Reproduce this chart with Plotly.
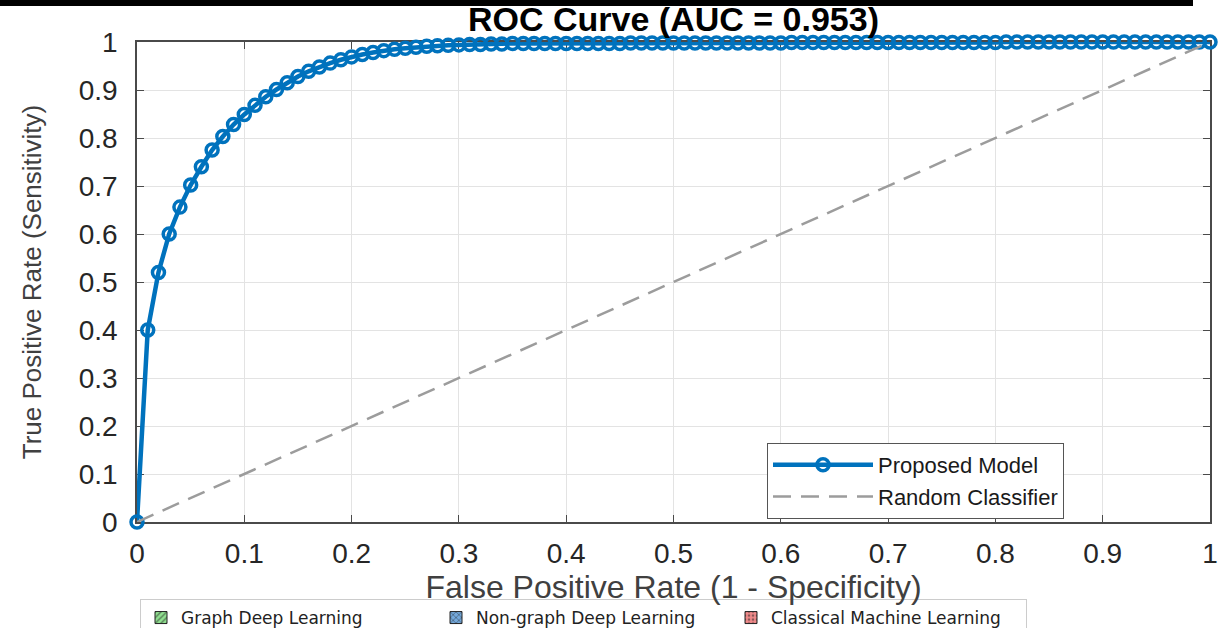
import plotly.graph_objects as go

# ---- data ----
fpr = [0.00, 0.01, 0.02, 0.03, 0.04, 0.05, 0.06, 0.07, 0.08, 0.09,
       0.10, 0.11, 0.12, 0.13, 0.14, 0.15, 0.16, 0.17, 0.18, 0.19,
       0.20, 0.21, 0.22, 0.23, 0.24, 0.25, 0.26, 0.27, 0.28, 0.29,
       0.30, 0.31, 0.32, 0.33, 0.34, 0.35, 0.36, 0.37, 0.38, 0.39,
       0.40, 0.41, 0.42, 0.43, 0.44, 0.45, 0.46, 0.47, 0.48, 0.49,
       0.50, 0.51, 0.52, 0.53, 0.54, 0.55, 0.56, 0.57, 0.58, 0.59,
       0.60, 0.61, 0.62, 0.63, 0.64, 0.65, 0.66, 0.67, 0.68, 0.69,
       0.70, 0.71, 0.72, 0.73, 0.74, 0.75, 0.76, 0.77, 0.78, 0.79,
       0.80, 0.81, 0.82, 0.83, 0.84, 0.85, 0.86, 0.87, 0.88, 0.89,
       0.90, 0.91, 0.92, 0.93, 0.94, 0.95, 0.96, 0.97, 0.98, 0.99,
       1.00]
tpr = [0.000, 0.400, 0.520, 0.600, 0.656, 0.702, 0.740, 0.775, 0.803, 0.828,
       0.849, 0.868, 0.886, 0.901, 0.915, 0.928, 0.939, 0.948, 0.956, 0.963,
       0.969, 0.974, 0.978, 0.982, 0.985, 0.987, 0.989, 0.991, 0.992, 0.993,
       0.994, 0.995, 0.995, 0.996, 0.996, 0.997, 0.997, 0.997, 0.997, 0.997,
       0.997, 0.997, 0.997, 0.997, 0.997, 0.997, 0.998, 0.998, 0.998, 0.998,
       0.998, 0.998, 0.998, 0.998, 0.998, 0.998, 0.998, 0.998, 0.998, 0.998,
       0.998, 0.999, 0.999, 0.999, 0.999, 0.999, 0.999, 0.999, 0.999, 0.999,
       0.999, 0.999, 0.999, 0.999, 0.999, 0.999, 0.999, 0.999, 0.999, 0.999,
       0.999, 1.000, 1.000, 1.000, 1.000, 1.000, 1.000, 1.000, 1.000, 1.000,
       1.000, 1.000, 1.000, 1.000, 1.000, 1.000, 1.000, 1.000, 1.000, 1.000,
       1.000]
diag_x = [0, 1]
diag_y = [0, 1]

auc_value = 0.953
category_labels = ["Graph Deep Learning", "Non-graph Deep Learning", "Classical Machine Learning"]
category_values = [0, 0, 0]   # legend-only proxy entries (no bars drawn in the reference)
category_colors = ["#90e090", "#74a9dc", "#f08a8a"]
category_patterns = ["/", "x", "."]

W, H = 1227, 628
L, R, T, B = 137, 17, 42, 106
PW, PH = W - L - R, H - T - B
FONT = "Liberation Sans, Arial, sans-serif"

fig = go.Figure()

fig.add_trace(go.Scatter(
    x=fpr, y=tpr, mode="lines+markers", name="Proposed Model",
    line=dict(color="#0072BD", width=4.5),
    marker=dict(symbol="circle-open", size=12, color="#0072BD",
                line=dict(width=3.5, color="#0072BD")),
    cliponaxis=False, legend="legend",
))
fig.add_trace(go.Scatter(
    x=diag_x, y=diag_y, mode="lines", name="Random Classifier",
    line=dict(color="#9c9c9c", width=2.5, dash="18px,10px"),
    legend="legend",
))

for lab, val, col, pat in zip(category_labels, category_values, category_colors, category_patterns):
    fig.add_trace(go.Bar(
        x=[lab], y=[val], name=lab, legend="legend2", showlegend=True,
        xaxis="x2", yaxis="y2",
        marker=dict(color=col, line=dict(color="#222222", width=1),
                    pattern=dict(shape=pat, fgcolor="#222222", size=5, solidity=0.35)),
    ))

axis_common = dict(
    range=[0, 1], dtick=0.1, tick0=0,
    showgrid=True, gridcolor="#e3e3e3", gridwidth=1,
    showline=True, linecolor="#4a4a4a", linewidth=1.5, mirror="ticks",
    ticks="inside", ticklen=7, tickcolor="#4a4a4a", tickwidth=1,
    zeroline=False, layer="below traces",
    tickfont=dict(family=FONT, size=28, color="#262626"),
)

fig.update_layout(
    width=W, height=H,
    margin=dict(l=L, r=R, t=T, b=B, autoexpand=False),
    paper_bgcolor="white", plot_bgcolor="white",
    title=dict(
        text=f"ROC Curve (AUC = {auc_value})",
        font=dict(family=FONT, size=34, color="#000000", weight="bold"),
        x=0.5, xref="paper", xanchor="center",
        y=1 - 19 / H, yref="container", yanchor="middle",
    ),
    xaxis=dict(**axis_common,
               title=dict(text="False Positive Rate (1 - Specificity)",
                          font=dict(family=FONT, size=32, color="#404040"),
                          standoff=0),
               ticklabelstandoff=6),
    yaxis=dict(**axis_common,
               title=dict(text="True Positive Rate (Sensitivity)",
                          font=dict(family=FONT, size=26, color="#404040"),
                          standoff=30),
               ticklabelstandoff=12),
    xaxis2=dict(overlaying="x", visible=False, range=[10, 11], type="linear"),
    yaxis2=dict(overlaying="y", visible=False, range=[10, 11]),
    legend=dict(
        x=(767 - L) / PW, y=(T + PH - 443) / PH, xanchor="left", yanchor="top",
        bgcolor="white", bordercolor="#555555", borderwidth=1,
        font=dict(family=FONT, size=22, color="#1a1a1a"),
        itemwidth=100, tracegroupgap=0,
    ),
    legend2=dict(
        orientation="h",
        x=(140 - L) / PW, y=(T + PH - 599) / PH, xanchor="left", yanchor="top",
        bgcolor="white", bordercolor="#cccccc", borderwidth=1,
        font=dict(family="DejaVu Sans, sans-serif", size=17, color="#222222"),
        entrywidth=250, entrywidthmode="pixels", itemwidth=30,
    ),
    shapes=[dict(type="rect", xref="paper", yref="paper",
                 x0=-L / PW, x1=(1193 - L) / PW,
                 y0=(T + PH - 6) / PH, y1=(T + PH) / PH,
                 fillcolor="#000000", line=dict(width=0), layer="above")],
    showlegend=True,
)

fig.write_html("out.html")
